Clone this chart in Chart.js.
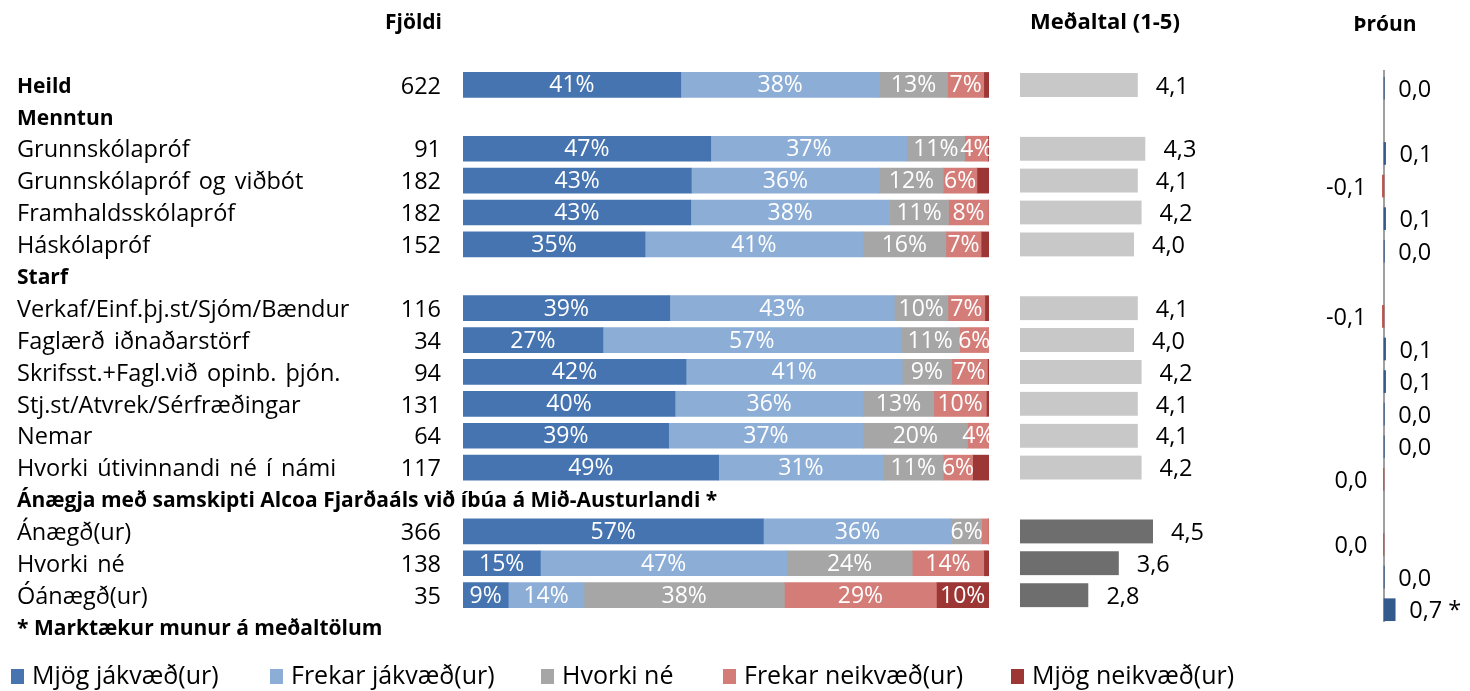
<!DOCTYPE html>
<html>
<head>
<meta charset="utf-8">
<script src="https://cdn.jsdelivr.net/npm/chart.js@4.4.1/dist/chart.umd.min.js"></script>
<style>
  html, body { margin: 0; padding: 0; background: #fff; }
  #wrap { position: relative; width: 1470px; height: 691px; overflow: hidden; }
  #wrap canvas { position: absolute; left: 0; top: 0; }
</style>
</head>
<body>
<div id="wrap">
  <canvas id="main" width="1470" height="691"></canvas>
  <canvas id="mean" width="1470" height="691"></canvas>
  <canvas id="trend" width="1470" height="691"></canvas>
</div>
<script>
// rows of the table, group headings included
const rowLabels = [
    'Heild', 'Menntun', 'Grunnskólapróf', 'Grunnskólapróf og viðbót', 'Framhaldsskólapróf', 'Háskólapróf',
    'Starf', 'Verkaf/Einf.þj.st/Sjóm/Bændur', 'Faglærð iðnaðarstörf', 'Skrifsst.+Fagl.við opinb. þjón.',
    'Stj.st/Atvrek/Sérfræðingar', 'Nemar', 'Hvorki útivinnandi né í námi',
    'Ánægja með samskipti Alcoa Fjarðaáls við íbúa á Mið-Austurlandi *',
    'Ánægð(ur)', 'Hvorki né', 'Óánægð(ur)', '* Marktækur munur á meðaltölum'
];
const boldRows = [0, 1, 6, 13, 17];
const counts = [622, null, 91, 182, 182, 152, null, 116, 34, 94, 131, 64, 117, null, 366, 138, 35, null];

const seriesNames = ['Mjög jákvæð(ur)', 'Frekar jákvæð(ur)', 'Hvorki né', 'Frekar neikvæð(ur)', 'Mjög neikvæð(ur)'];
const mjogJak   = [41.4, null, 47.1, 43.4, 43.3, 34.6, null, 39.3, 26.6, 42.4, 40.3, 39.1, 48.6, null, 57.1, 14.7, 8.6, null];
const frekarJak = [37.8, null, 37.3, 35.8, 37.8, 41.4, null, 42.7, 56.6, 41.1, 35.8, 37.0, 31.3, null, 35.8, 46.9, 14.4, null];
const hvorki    = [12.9, null, 11.0, 12.1, 11.2, 15.8, null, 10.2, 11.2, 9.4, 13.4, 19.8, 11.4, null, 5.7, 23.8, 38.1, null];
const frekarNei = [6.9, null, 4.4, 6.4, 7.6, 6.7, null, 7.0, 5.6, 6.8, 10.0, 4.1, 5.6, null, 1.3, 13.6, 28.9, null];
const mjogNei   = [1.0, null, 0.2, 2.3, 0.1, 1.5, null, 0.8, 0, 0.3, 0.5, 0, 3.1, null, 0.1, 1.0, 10.0, null];

const means = [4.1, null, 4.3, 4.1, 4.2, 4.0, null, 4.1, 4.0, 4.2, 4.1, 4.1, 4.2, null, 4.5, 3.6, 2.8, null];
const meanRange = [1, 5];

// change since last survey; the last row has no trend
const trend = [0.02, null, 0.1, -0.1, 0.1, 0.02, null, -0.1, 0.1, 0.1, 0.02, 0.02, -0.03, null, -0.03, 0.02, 0.7];
const trendMarked = [16];

const seriesColors = ['#4674B1', '#8CADD5', '#A6A6A6', '#D47C78', '#9C3735'];
const FONT = '"Open Sans", "Noto Sans", sans-serif';

function fmt(v) {
    let s = (Math.round(v * 10) / 10).toFixed(1);
    if (s === '-0.0') s = '0.0';
    return s.replace('.', ',');
}

// row labels, counts, headers, segment labels and legend
const mainText = {
    id: 'mainText',
    afterDatasetsDraw(chart) {
        const ctx = chart.ctx;
        const y = chart.scales.y;
        ctx.save();
        ctx.textBaseline = 'middle';

        // segment labels
        ctx.fillStyle = '#fff';
        ctx.textAlign = 'center';
        ctx.font = '23px ' + FONT;
        chart.data.datasets.forEach((ds, di) => {
            chart.getDatasetMeta(di).data.forEach((bar, i) => {
                const v = ds.data[i];
                if (v == null || v < 3.5) return;
                const left = Math.min(bar.x, bar.base);
                const w = Math.abs(bar.x - bar.base);
                ctx.fillText(Math.round(v) + '%', left + w / 2, bar.y + 1);
            });
        });

        // row labels and counts
        ctx.fillStyle = '#000';
        rowLabels.forEach((label, i) => {
            const py = y.getPixelForValue(i) + 2;
            ctx.textAlign = 'left';
            if (boldRows.includes(i)) {
                ctx.wordSpacing = '0px';
                ctx.font = 'bold 21px ' + FONT;
                const maxW = i === 13 ? 712 : (i === 17 ? 374 : undefined);
                if (maxW) ctx.fillText(label, 17, py, maxW);
                else ctx.fillText(label, 17, py);
            } else {
                ctx.wordSpacing = '3px';
                ctx.font = '23.5px ' + FONT;
                ctx.fillText(label, 17, py);
            }
            if (counts[i] != null) {
                ctx.wordSpacing = '0px';
                ctx.font = '23.5px ' + FONT;
                ctx.textAlign = 'right';
                ctx.fillText(String(counts[i]), 441, py);
            }
        });

        // column headers
        ctx.font = 'bold 21px ' + FONT;
        ctx.textAlign = 'right';
        ctx.fillText('Fjöldi', 442, 23);
        ctx.textAlign = 'center';
        ctx.font = 'bold 22px ' + FONT;
        ctx.fillText('Meðaltal (1-5)', 1105, 23);
        ctx.font = 'bold 21px ' + FONT;
        ctx.fillText('Þróun', 1385, 25);

        // legend
        const legendX = [11, 270, 541, 723, 1011];
        ctx.font = '25px ' + FONT;
        ctx.textAlign = 'left';
        seriesNames.forEach((name, i) => {
            ctx.fillStyle = seriesColors[i];
            ctx.fillRect(legendX[i], 669, 13, 15);
            ctx.fillStyle = '#000';
            ctx.fillText(name, legendX[i] + 21, 677);
        });
        ctx.restore();
    }
};

const meanText = {
    id: 'meanText',
    afterDatasetsDraw(chart) {
        const ctx = chart.ctx;
        ctx.save();
        ctx.font = '23.5px ' + FONT;
        ctx.fillStyle = '#000';
        ctx.textAlign = 'left';
        ctx.textBaseline = 'middle';
        chart.getDatasetMeta(0).data.forEach((bar, i) => {
            if (means[i] == null) return;
            ctx.fillText(fmt(means[i]), bar.x + 18, bar.y + 2);
        });
        ctx.restore();
    }
};

const trendText = {
    id: 'trendText',
    beforeDatasetsDraw(chart) {
        const ctx = chart.ctx;
        const x0 = chart.scales.x.getPixelForValue(0);
        ctx.save();
        ctx.strokeStyle = '#A0A0A0';
        ctx.lineWidth = 2;
        ctx.beginPath();
        ctx.moveTo(x0, chart.chartArea.top - 2);
        ctx.lineTo(x0, chart.chartArea.bottom - 4);
        ctx.stroke();
        ctx.restore();
    },
    afterDatasetsDraw(chart) {
        const ctx = chart.ctx;
        ctx.save();
        ctx.font = '23.5px ' + FONT;
        ctx.fillStyle = '#000';
        ctx.textBaseline = 'middle';
        chart.getDatasetMeta(0).data.forEach((bar, i) => {
            const v = trend[i];
            if (v == null) return;
            const txt = fmt(v) + (trendMarked.includes(i) ? ' *' : '');
            if (v < 0) {
                ctx.textAlign = 'right';
                ctx.fillText(txt, bar.x - 16, bar.y + 2);
            } else {
                ctx.textAlign = 'left';
                ctx.fillText(txt, bar.x + 14, bar.y + 2);
            }
        });
        ctx.restore();
    }
};

const hidden = { display: false };
const noPlugins = { legend: { display: false }, tooltip: { enabled: false } };

new Chart(document.getElementById('main'), {
    type: 'bar',
    data: {
        labels: rowLabels,
        datasets: [mjogJak, frekarJak, hvorki, frekarNei, mjogNei].map((d, i) => ({
            label: seriesNames[i],
            data: d,
            backgroundColor: seriesColors[i],
            borderWidth: 0,
            barThickness: 25
        }))
    },
    options: {
        indexAxis: 'y',
        responsive: false,
        animation: false,
        layout: { padding: { left: 463, right: 481, top: 69, bottom: 48 } },
        scales: {
            x: { stacked: true, min: 0, max: 100, display: false },
            y: { stacked: true, display: false }
        },
        plugins: noPlugins
    },
    plugins: [mainText]
});

new Chart(document.getElementById('mean'), {
    type: 'bar',
    data: {
        labels: rowLabels,
        datasets: [{
            label: 'Meðaltal',
            data: means,
            backgroundColor: c => c.dataIndex > 13 ? '#6E6E6E' : '#C8C8C8',
            borderColor: '#7F7F7F',
            borderWidth: { left: 2, right: 0, top: 0, bottom: 0 },
            borderSkipped: false,
            barThickness: 24
        }]
    },
    options: {
        indexAxis: 'y',
        responsive: false,
        animation: false,
        layout: { padding: { left: 1020, right: 298, top: 69, bottom: 48 } },
        scales: {
            x: { min: meanRange[0], max: meanRange[1], display: false },
            y: hidden
        },
        plugins: noPlugins
    },
    plugins: [meanText]
});

new Chart(document.getElementById('trend'), {
    type: 'bar',
    data: {
        labels: rowLabels.slice(0, trend.length),
        datasets: [{
            label: 'Þróun',
            data: trend,
            backgroundColor: c => c.raw < 0 ? '#C0504D' : '#335A8C',
            borderWidth: 0,
            barThickness: 22
        }]
    },
    options: {
        indexAxis: 'y',
        responsive: false,
        animation: false,
        layout: { padding: { left: 1368, right: 70, top: 72, bottom: 65 } },
        scales: {
            x: { min: -1, max: 1, display: false },
            y: hidden
        },
        plugins: noPlugins
    },
    plugins: [trendText]
});
</script>
</body>
</html>
